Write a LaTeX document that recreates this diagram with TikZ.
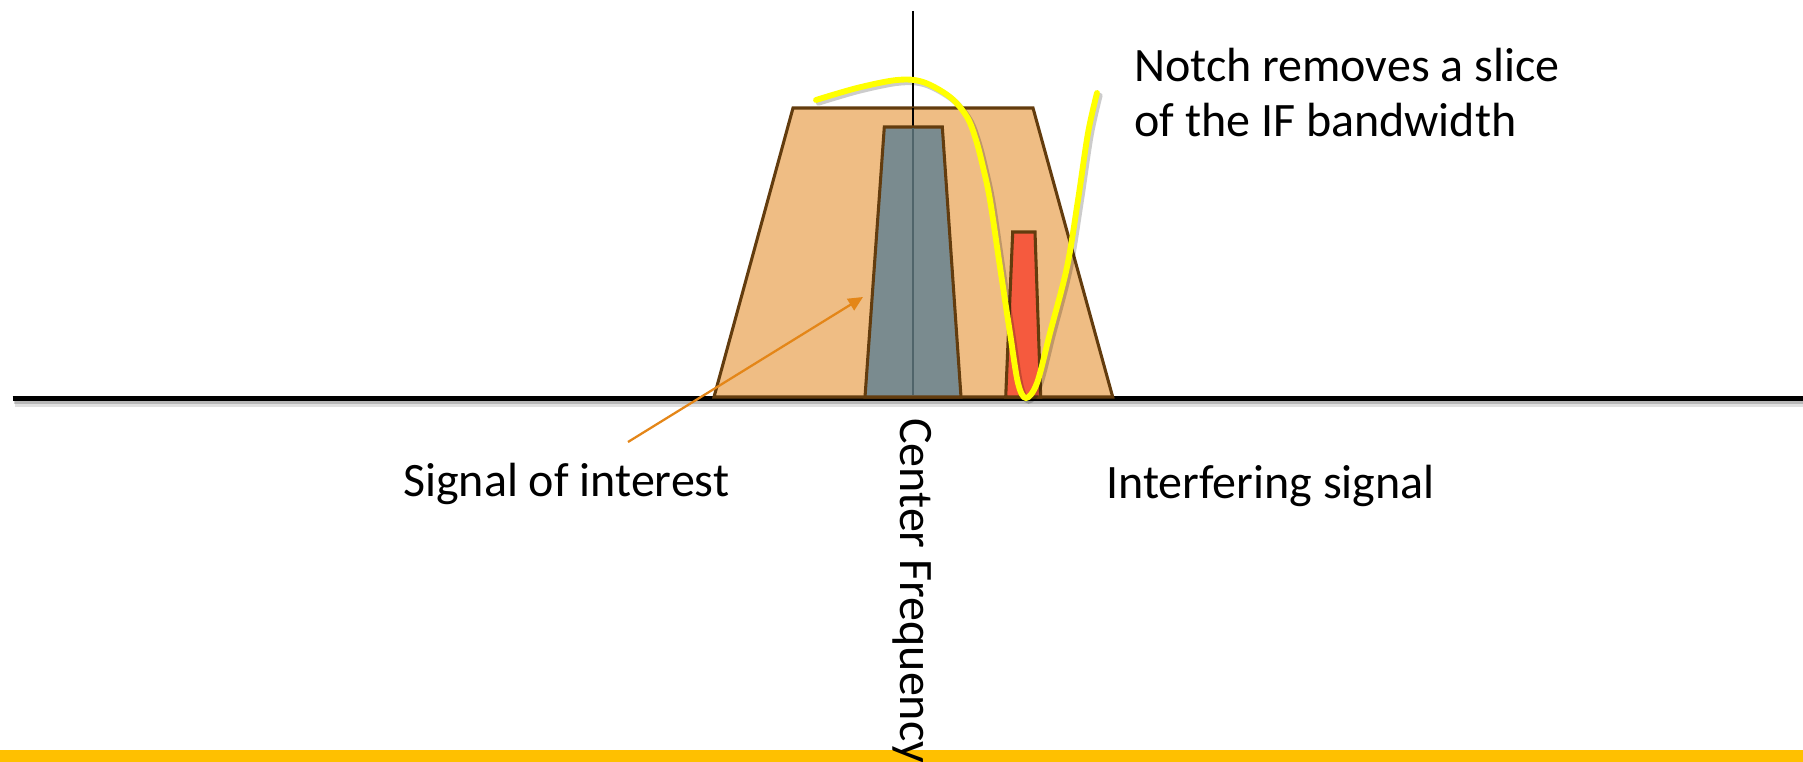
\documentclass[tikz,border=0pt]{standalone}
\usepackage{fontspec}
\setmainfont{Carlito}
\usetikzlibrary{arrows.meta}
\definecolor{tanfill}{RGB}{239,189,132}
\definecolor{brn}{RGB}{99,60,14}
\definecolor{slate}{RGB}{122,139,143}
\definecolor{redsig}{RGB}{245,90,62}
\definecolor{arrcol}{RGB}{228,134,24}
\definecolor{gold}{RGB}{255,192,0}
\definecolor{cline}{RGB}{80,100,106}
\definecolor{notchyel}{RGB}{255,255,0}
\tikzset{
  lbl/.style={font=\fontsize{36}{41.5}\selectfont, inner sep=0pt, text=black},
  band/.style={draw=brn, line width=2.3pt, line join=miter},
  notchcurve/.style={draw=notchyel, line width=4.4pt, line cap=round},
}
\begin{document}
\begin{tikzpicture}[x=0.75pt,y=-0.75pt]
\useasboundingbox (0,0) rectangle (1803,762);
\clip (0,0) rectangle (1803,762);
% bottom bar
\fill[gold] (0,750) rectangle (1803,762);
% baseline with shadow
\draw[black, line width=4pt, opacity=0.12] (15,404) -- (1803,404);
\draw[black, line width=3pt, opacity=0.18] (14,402) -- (1803,402);
\draw[black, line width=3.8pt] (12.7,398.5) -- (1803,398.5);
% vertical center line
\coordinate (vtop) at (913,11);
\coordinate (vbot) at (913,397);
\draw[black, line width=1.5pt] (vtop) -- (vbot);
% IF band
\draw[band, fill=tanfill] (714,397) -- (793,108) -- (1033,108) -- (1112.7,397) -- cycle;
\draw[black, line width=1.5pt] (913,108) -- (913,127);
% signal of interest
\draw[band, fill=slate] (865,397) -- (884.3,127) -- (942.3,127) -- (961,397) -- cycle;
\draw[cline, line width=1.5pt] (913,128.5) -- (913,395.5);
% interfering signal
\draw[band, fill=redsig] (1005.7,397) -- (1012.7,232) -- (1035,232) -- (1040.7,397) -- cycle;
% notch curve shadow + curve
\draw[black, opacity=0.2, line width=4.4pt, line cap=round, xshift=2pt, yshift=-2pt]
  plot[smooth, tension=0.55] coordinates {(816,100) (857,88) (897,80) (923,82) (950,97) (967,117) (976,140) (983,167) (990,200) (1000,267) (1010,333) (1018,383) (1026,398) (1037,383) (1050,333) (1067,267) (1078,200) (1088,133) (1097,93)};
\draw[notchcurve]
  plot[smooth, tension=0.55] coordinates {(816,100) (857,88) (897,80) (923,82) (950,97) (967,117) (976,140) (983,167) (990,200) (1000,267) (1010,333) (1018,383) (1026,398) (1037,383) (1050,333) (1067,267) (1078,200) (1088,133) (1097,93)};
% labels
\node[lbl, anchor=base west, align=left] (notch) at (1134,137) {Notch removes a slice\\of the IF bandwidth};
\node[lbl, anchor=base west] (soi) at (403,497) {Signal of interest};
\node[lbl, anchor=base west] (intf) at (1106,499) {Interfering signal};
\node[lbl, anchor=base west, rotate=-90] (cf) at (900,418) {Center Frequency};
% arrow
\coordinate (arrS) at (628,442);
\coordinate (arrE) at (863,297);
\draw[arrcol, line width=1.7pt, -{Triangle[length=11pt,width=10pt]}] (arrS) -- (arrE);
\end{tikzpicture}
\end{document}
